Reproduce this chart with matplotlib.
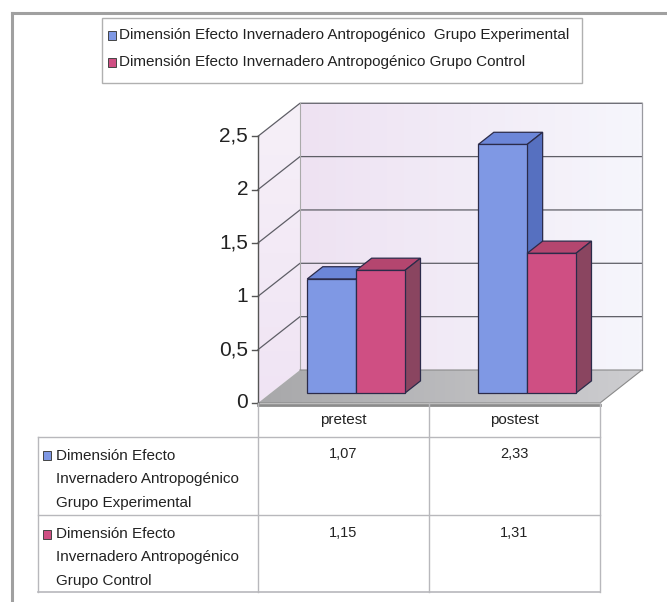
import matplotlib.pyplot as plt
import numpy as np
from matplotlib.patches import Polygon, Rectangle

# datos del grafico
categorias = ['pretest', 'postest']
series = ['Dimensión Efecto Invernadero Antropogénico  Grupo Experimental',
          'Dimensión Efecto Invernadero Antropogénico Grupo Control']
series_tabla = [['Dimensión Efecto', 'Invernadero Antropogénico', 'Grupo Experimental'],
                ['Dimensión Efecto', 'Invernadero Antropogénico', 'Grupo Control']]
experimental = [1.07, 2.33]
control = [1.15, 1.31]
ticks = [0, 0.5, 1, 1.5, 2, 2.5]

# colores (frente, tapa, lado)
col_azul = ('#7f98e4', '#6c86d8', '#5670c0')
col_rojo = ('#cf4f83', '#b4466f', '#8a4560')
borde = '#2b2b4a'

plt.rcParams['font.family'] = ['Liberation Sans', 'DejaVu Sans']

W, H = 667, 602
fig = plt.figure(figsize=(W / 100, H / 100), dpi=100)

# ejes en unidades de categoria / valor
X0, CAT = 258, 171
Y0, UNI = 403, 106.7
ax = fig.add_axes([0, 0, 1, 1])
ax.set_xlim(-X0 / CAT, (W - X0) / CAT)
ax.set_ylim((Y0 - H) / UNI, Y0 / UNI)
ax.axis('off')

# ejes en pixeles para marco, leyenda y tabla
px = fig.add_axes([0, 0, 1, 1], facecolor='none')
px.set_xlim(0, W)
px.set_ylim(H, 0)
px.axis('off')

DX, DY = 42 / CAT, 33 / UNI
n = len(categorias)
ymax = ticks[-1]


def degradado(poly, c1, c2, horizontal=True):
    ax.add_patch(poly)
    poly.set_facecolor('none')
    poly.set_edgecolor('none')
    xs, ys = zip(*poly.get_xy())
    g = np.linspace(0, 1, 64)
    g = g[None, :] if horizontal else g[:, None]
    c1, c2 = np.array(c1) / 255, np.array(c2) / 255
    img = c1 + (c2 - c1) * g[..., None]
    im = ax.imshow(img, extent=[min(xs), max(xs), min(ys), max(ys)],
                   origin='lower', aspect='auto', zorder=0.5, interpolation='bilinear')
    im.set_clip_path(poly)


# pared del fondo, pared lateral y piso
fondo = Polygon([(DX, DY), (n + DX, DY), (n + DX, ymax + DY), (DX, ymax + DY)], closed=True)
degradado(fondo, (238, 226, 242), (246, 246, 252))
lateral = Polygon([(0, 0), (DX, DY), (DX, ymax + DY), (0, ymax)], closed=True)
degradado(lateral, (240, 228, 244), (246, 240, 248), horizontal=False)
piso = Polygon([(0, 0), (n, 0), (n + DX, DY), (DX, DY)], closed=True)
degradado(piso, (168, 168, 170), (205, 205, 208))

gris = '#5e5e66'
for t in ticks[1:]:
    ax.plot([0, DX, n + DX], [t, t + DY, t + DY], color=gris, lw=0.9, zorder=1)
ax.plot([DX, DX], [DY, ymax + DY], color='#aaaaaa', lw=0.8, zorder=1)
ax.plot([n + DX, n + DX], [DY, ymax + DY], color='#9a9aa0', lw=0.9, zorder=1)
ax.plot([0, n, n + DX, DX], [0, 0, DY, DY], color='#8a8a8a', lw=0.8, zorder=1)
ax.plot([0, n], [-0.02, -0.02], color='#8c8c8c', lw=2, zorder=1)

# eje de valores
ax.plot([0, 0], [0, ymax], color='#555555', lw=1, zorder=3)
for t in ticks:
    ax.plot([-6 / CAT, 0], [t, t], color='#555555', lw=1, zorder=3)
    ax.text(-10 / CAT, t, f'{t:g}'.replace('.', ','), ha='right', va='center',
            fontsize=15, color='#222222')

# barras con profundidad
ancho = 1 / 3.5
f0, f1 = 0.30, 0.67
for i in range(n):
    for j, (vals, col) in enumerate([(experimental, col_azul), (control, col_rojo)]):
        v = vals[i]
        x0 = i + 0.75 * ancho + j * ancho + f0 * DX
        x1 = x0 + ancho
        y0 = f0 * DY
        ddx, ddy = (f1 - f0) * DX, (f1 - f0) * DY
        tapa = [(x0, y0 + v), (x1, y0 + v), (x1 + ddx, y0 + v + ddy), (x0 + ddx, y0 + v + ddy)]
        lado = [(x1, y0), (x1 + ddx, y0 + ddy), (x1 + ddx, y0 + v + ddy), (x1, y0 + v)]
        for pts, c in [(tapa, col[1]), (lado, col[2])]:
            ax.add_patch(Polygon(pts, closed=True, fc=c, ec=borde, lw=0.9, zorder=4))
        ax.add_patch(Rectangle((x0, y0), ancho, v, fc=col[0], ec=borde, lw=0.9, zorder=4))

# marco exterior
px.plot([12, W], [13, 13], color='#a0a0a0', lw=2.2)
px.plot([12, 12], [13, H], color='#a0a0a0', lw=2.2)

# leyenda
px.add_patch(Rectangle((102, 18), 480, 65, fc='white', ec='#b0b0b0', lw=1))
for k, (nombre, col) in enumerate(zip(series, [col_azul, col_rojo])):
    y = 35 + k * 27
    px.add_patch(Rectangle((108, y - 4.5), 8, 9, fc=col[0], ec='#444444', lw=0.7))
    px.text(119, y, nombre, ha='left', va='center', fontsize=11, color='#222222')

# tabla de datos
lin = '#b8b8bc'
px.plot([38, 600], [437, 437], color=lin, lw=1)
px.plot([38, 600], [515, 515], color=lin, lw=1)
px.plot([38, 600], [592, 592], color=lin, lw=1.2)
px.plot([38, 38], [437, 592], color=lin, lw=1)
for xv in [258, 429, 600]:
    px.plot([xv, xv], [403, 592], color=lin, lw=1)
for i, cat in enumerate(categorias):
    xc = X0 + (i + 0.5) * CAT
    px.text(xc, 420, cat, ha='center', va='center', fontsize=11, color='#222222')
for k, (filas, vals, col) in enumerate(zip(series_tabla, [experimental, control],
                                           [col_azul, col_rojo])):
    ytop = 455.5 + k * 78.5
    px.add_patch(Rectangle((43, ytop - 4.5), 8, 9, fc=col[0], ec='#444444', lw=0.7))
    for r, txt in enumerate(filas):
        px.text(56, ytop + r * 23.5, txt, ha='left', va='center', fontsize=11, color='#222222')
    for i, v in enumerate(vals):
        xc = X0 + (i + 0.5) * CAT
        px.text(xc, ytop - 1, f'{v:.2f}'.replace('.', ','), ha='center', va='center',
                fontsize=10.5, color='#222222')

fig.savefig('out.png', dpi=100)
